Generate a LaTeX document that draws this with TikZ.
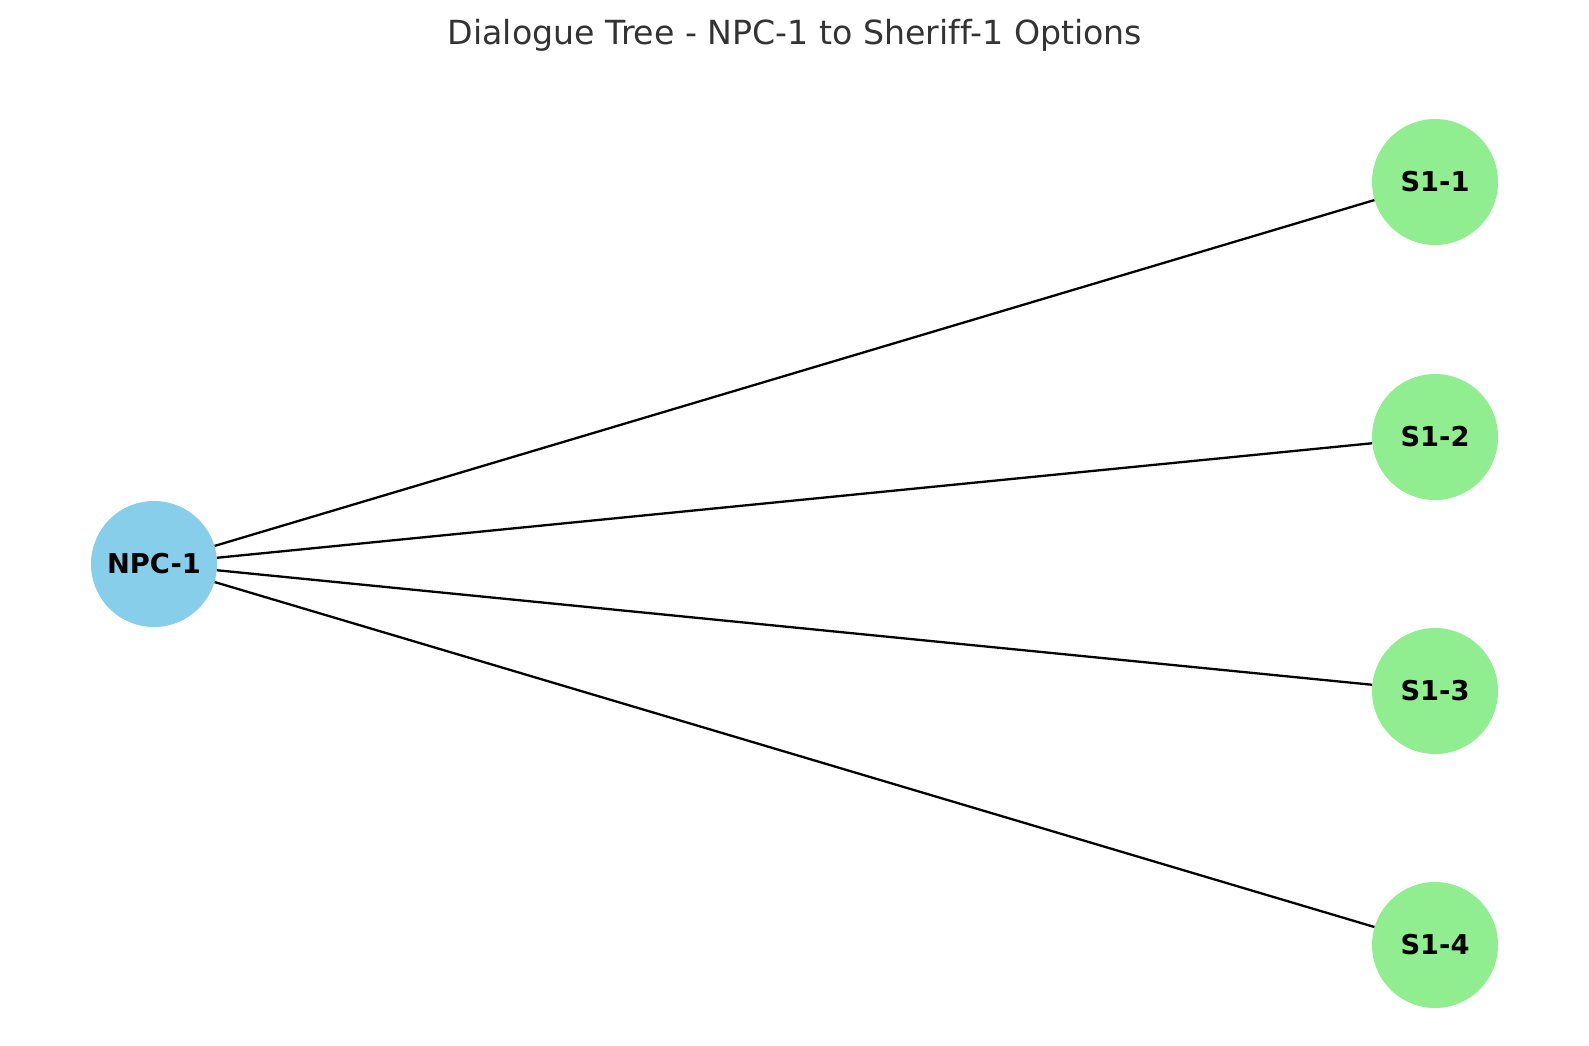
\documentclass[tikz,border=0pt]{standalone}
\usepackage{fontspec}
\setmainfont[Ligatures=NoCommon]{DejaVu Sans}
\definecolor{skyb}{HTML}{87CEEB}
\definecolor{lgreen}{HTML}{90EE90}
\definecolor{titlegray}{HTML}{333333}
\begin{document}
\begin{tikzpicture}[x=1pt,y=-1pt,
  npc/.style={circle,fill=skyb,minimum size=126pt,inner sep=0pt,font=\fontsize{27.3}{30}\selectfont\bfseries},
  opt/.style={circle,fill=lgreen,minimum size=126pt,inner sep=0pt,font=\fontsize{27.3}{30}\selectfont\bfseries},
  edge/.style={draw=black,line width=2.3pt}]
\useasboundingbox (0,0) rectangle (1589,1045);
\node[font=\fontsize{33.2}{38}\selectfont,text=titlegray] (title) at (795,35) {Dialogue Tree - NPC-1 to Sheriff-1 Options};
\node[npc] (n) at (154,564) {NPC-1};
\node[opt] (s1) at (1435,182) {S1-1};
\node[opt] (s2) at (1435,437) {S1-2};
\node[opt] (s3) at (1435,691) {S1-3};
\node[opt] (s4) at (1435,945) {S1-4};
\foreach \s in {s1,s2,s3,s4} \draw[edge] (n) -- (\s);
\end{tikzpicture}
\end{document}
